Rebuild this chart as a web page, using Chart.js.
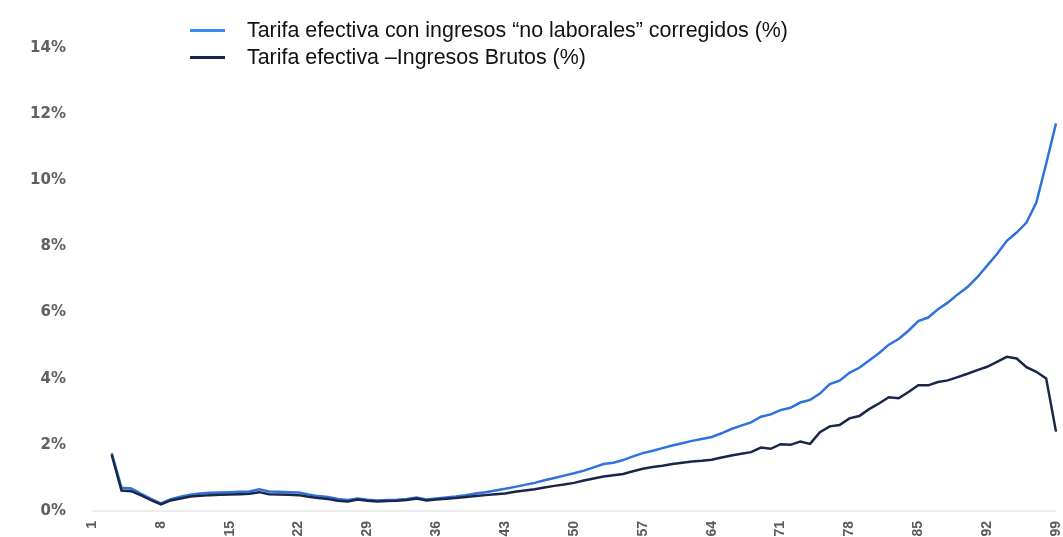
<!DOCTYPE html>
<html>
<head>
<meta charset="utf-8">
<script src="https://cdn.jsdelivr.net/npm/chart.js@4.4.1/dist/chart.umd.min.js"></script>
<style>
  html, body { margin: 0; padding: 0; background: #ffffff; overflow: hidden; }
  #wrap { position: relative; width: 1063px; height: 537px; }
  #legend { position: absolute; left: 190px; top: 17px; font-family: "Liberation Sans", Arial, sans-serif; font-size: 21.4px; color: #111; }
  .li { display: flex; align-items: center; height: 27px; white-space: nowrap; }
  .mk { width: 35px; height: 3px; margin-right: 22px; }
</style>
</head>
<body>
<div id="wrap">
  <canvas id="c" width="1063" height="537"></canvas>
  <div id="legend"></div>
</div>
<script>
const categories = Array.from({length: 99}, (_, i) => String(i + 1));

const seriesNames = [
  "Tarifa efectiva con ingresos \u201cno laborales\u201d corregidos (%)",
  "Tarifa efectiva \u2013Ingresos Brutos (%)"
];

const tarifaCorregida = [
  null, null, 1.75, 0.70, 0.68, 0.52, 0.37, 0.23, 0.36, 0.43,
  0.49, 0.53, 0.55, 0.56, 0.57, 0.58, 0.59, 0.66, 0.59, 0.58,
  0.57, 0.56, 0.50, 0.45, 0.42, 0.36, 0.33, 0.38, 0.34, 0.32,
  0.33, 0.34, 0.36, 0.41, 0.35, 0.38, 0.41, 0.44, 0.48, 0.53,
  0.57, 0.62, 0.67, 0.73, 0.79, 0.85, 0.93, 1.00, 1.07, 1.14,
  1.22, 1.32, 1.42, 1.46, 1.54, 1.65, 1.75, 1.82, 1.90, 1.98,
  2.05, 2.12, 2.18, 2.24, 2.35, 2.48, 2.58, 2.68, 2.85, 2.92,
  3.05, 3.12, 3.28, 3.36, 3.55, 3.84, 3.94, 4.18, 4.33, 4.55,
  4.77, 5.03, 5.20, 5.45, 5.74, 5.85, 6.10, 6.30, 6.55, 6.77,
  7.07, 7.42, 7.77, 8.17, 8.42, 8.72, 9.33, 10.50, 11.72
];

const tarifaBruta = [
  null, null, 1.70, 0.62, 0.60, 0.47, 0.33, 0.20, 0.32, 0.38,
  0.44, 0.46, 0.48, 0.49, 0.50, 0.51, 0.52, 0.57, 0.51, 0.50,
  0.49, 0.48, 0.43, 0.39, 0.36, 0.31, 0.29, 0.35, 0.31, 0.29,
  0.30, 0.31, 0.33, 0.38, 0.32, 0.35, 0.37, 0.39, 0.42, 0.45,
  0.48, 0.51, 0.53, 0.58, 0.62, 0.66, 0.71, 0.76, 0.80, 0.85,
  0.92, 0.98, 1.04, 1.08, 1.12, 1.20, 1.28, 1.33, 1.37, 1.42,
  1.46, 1.50, 1.52, 1.55, 1.62, 1.68, 1.73, 1.78, 1.92, 1.88,
  2.02, 2.00, 2.10, 2.03, 2.38, 2.56, 2.60, 2.80, 2.87, 3.08,
  3.25, 3.44, 3.41, 3.60, 3.80, 3.80, 3.90, 3.95, 4.05, 4.15,
  4.26, 4.36, 4.51, 4.66, 4.61, 4.35, 4.21, 4.01, 2.40
];

const yTickValues = [0, 2, 4, 6, 8, 10, 12, 14];
const xLabelEvery = 7;

const htmlLegend = {
  id: 'htmlLegend',
  afterUpdate(chart) {
    const box = document.getElementById('legend');
    box.innerHTML = '';
    chart.data.datasets.forEach(ds => {
      const row = document.createElement('div');
      row.className = 'li';
      const mk = document.createElement('span');
      mk.className = 'mk';
      mk.style.background = ds.legendColor || ds.borderColor;
      const tx = document.createElement('span');
      tx.textContent = ds.label;
      row.appendChild(mk);
      row.appendChild(tx);
      box.appendChild(row);
    });
  }
};

function zeroPad(scale) {
  scale.paddingLeft = 0; scale.paddingRight = 0;
  scale.paddingTop = 0; scale.paddingBottom = 0;
}

new Chart(document.getElementById('c'), {
  type: 'line',
  data: {
    labels: categories,
    datasets: [
      {
        label: seriesNames[0],
        data: tarifaCorregida,
        borderColor: '#2f72de',
        legendColor: '#3a8cf2',
        borderWidth: 2.5,
        pointRadius: 0,
        tension: 0,
        order: 2
      },
      {
        label: seriesNames[1],
        data: tarifaBruta,
        borderColor: '#19264a',
        borderWidth: 2.5,
        pointRadius: 0,
        tension: 0,
        order: 1
      }
    ]
  },
  options: {
    responsive: false,
    animation: false,
    layout: { padding: { top: 48, right: 7, left: 0, bottom: 0 } },
    plugins: {
      legend: { display: false },
      tooltip: { enabled: false }
    },
    scales: {
      x: {
        offset: false,
        grid: { display: false, drawTicks: false },
        border: { display: false },
        afterFit(scale) { scale.height = 26; zeroPad(scale); },
        ticks: {
          autoSkip: false,
          minRotation: 90,
          maxRotation: 90,
          padding: 10,
          color: '#5a5a5a',
          font: { family: 'Liberation Sans', size: 14, weight: 'bold' },
          callback(val, idx) { return idx % xLabelEvery === 0 ? this.getLabelForValue(val) : ''; }
        }
      },
      y: {
        min: 0,
        max: 14,
        afterFit(scale) { scale.width = 92; zeroPad(scale); },
        afterBuildTicks(scale) { scale.ticks = yTickValues.map(v => ({ value: v })); },
        grid: {
          drawTicks: false,
          lineWidth: 2,
          color: ctx => (ctx.tick && ctx.tick.value === 0) ? '#ececec' : 'rgba(0,0,0,0)'
        },
        border: { display: false },
        ticks: {
          padding: 26,
          color: '#606060',
          font: { family: 'DejaVu Sans', size: 15, weight: 'bold' },
          callback: v => v + '%'
        }
      }
    }
  },
  plugins: [htmlLegend]
});
</script>
</body>
</html>
